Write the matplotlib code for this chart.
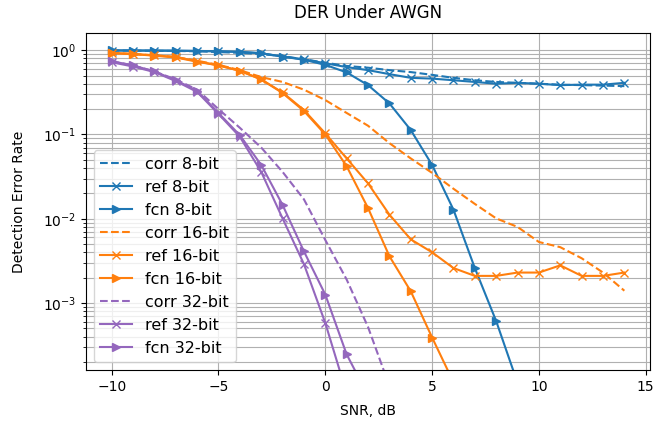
import numpy as np
import matplotlib
matplotlib.use("Agg")
import matplotlib.pyplot as plt

# SNR grid, dB
snr = list(range(-10, 15))

# 8-bit
corr_8 = [0.99, 0.99, 0.98, 0.98, 0.97, 0.95, 0.93, 0.90, 0.85, 0.78, 0.71, 0.65, 0.62,
          0.58, 0.55, 0.51, 0.47, 0.44, 0.42, 0.41, 0.40, 0.39, 0.385, 0.38, 0.375]
ref_8 = [0.99, 0.99, 0.99, 0.98, 0.98, 0.97, 0.955, 0.92, 0.84, 0.78, 0.70, 0.63, 0.58,
         0.52, 0.47, 0.46, 0.44, 0.42, 0.40, 0.41, 0.40, 0.385, 0.39, 0.39, 0.41]
fcn_8 = [1.0, 0.99, 0.99, 0.99, 0.98, 0.97, 0.955, 0.92, 0.84, 0.77, 0.67, 0.545, 0.385,
         0.234, 0.113, 0.0435, 0.0128, 0.0026, 6.1e-4, 1.13e-4]

# 16-bit
corr_16 = [0.93, 0.90, 0.87, 0.83, 0.75, 0.67, 0.58, 0.48, 0.42, 0.34, 0.256, 0.18, 0.127,
           0.079, 0.052, 0.035, 0.0227, 0.015, 0.0101, 0.008, 0.0053, 0.0046, 0.0034,
           0.0023, 0.0014]
ref_16 = [0.93, 0.90, 0.87, 0.83, 0.74, 0.66, 0.57, 0.45, 0.315, 0.195, 0.103, 0.052, 0.0263,
          0.0112, 0.0057, 0.0040, 0.0026, 0.0021, 0.0021, 0.0023, 0.0023, 0.0028, 0.0021,
          0.0021, 0.0023]
fcn_16 = [0.92, 0.90, 0.86, 0.82, 0.73, 0.66, 0.57, 0.45, 0.31, 0.19, 0.10, 0.042, 0.0134,
          0.0036, 0.00138, 3.9e-4, 1.15e-4]

# 32-bit
corr_32 = [0.74, 0.66, 0.56, 0.45, 0.34, 0.20, 0.12, 0.07, 0.036, 0.017, 0.0056, 0.0019,
           5.2e-4, 1.04e-4]
ref_32 = [0.72, 0.64, 0.55, 0.43, 0.32, 0.175, 0.094, 0.036, 0.0101, 0.0029, 5.8e-4, 8.5e-5]
fcn_32 = [0.74, 0.66, 0.56, 0.44, 0.33, 0.18, 0.098, 0.0435, 0.0146, 0.0041, 0.00126,
          2.46e-4, 8e-5]

series = [
    ("8-bit", "C0", corr_8, ref_8, fcn_8),
    ("16-bit", "C1", corr_16, ref_16, fcn_16),
    ("32-bit", "C4", corr_32, ref_32, fcn_32),
]

fig = plt.figure(figsize=(6.69, 4.23), dpi=100)
ax = fig.add_axes([0.1286, 0.125, 0.843, 0.797])

for name, col, corr, ref, fcn in series:
    ax.semilogy(snr[:len(corr)], corr, "--", color=col, label=f"corr {name}")
    ax.semilogy(snr[:len(ref)], ref, "-x", color=col, label=f"ref {name}")
    ax.semilogy(snr[:len(fcn)], fcn, "->", color=col, label=f"fcn {name}")

ax.set_xlim(-11.2, 15.2)
ax.set_ylim(1.6e-4, 1.6)
ax.grid(True, which="both")
ax.set_title("DER Under AWGN", pad=11)
ax.set_xlabel("SNR, dB", labelpad=7)
ax.set_ylabel("Detection Error Rate", labelpad=12)
ax.legend(loc="lower left", fontsize=11.5)

fig.savefig("out.png")
